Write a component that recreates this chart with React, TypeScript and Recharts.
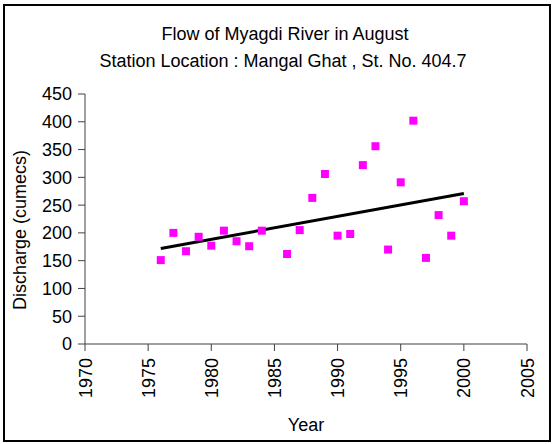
import React from 'react'
import {
  ScatterChart,
  Scatter,
  XAxis,
  YAxis,
  ZAxis,
  ReferenceLine,
} from 'recharts'

const years = [
  1976, 1977, 1978, 1979, 1980, 1981, 1982, 1983, 1984, 1986, 1987, 1988,
  1989, 1990, 1991, 1992, 1993, 1994, 1995, 1996, 1997, 1998, 1999, 2000,
]
const flows = [
  151, 200, 167, 193, 177, 204, 185, 176, 204, 162, 205, 263,
  306, 195, 198, 322, 356, 170, 291, 402, 155, 232, 195, 257,
]
// trend line end points
const trendYears = [1976, 2000]
const trendFlows = [172, 271]

const xTicks = [1970, 1975, 1980, 1985, 1990, 1995, 2000, 2005]
const yTicks = [0, 50, 100, 150, 200, 250, 300, 350, 400, 450]

const FONT = '"Liberation Sans", Arial, sans-serif'
const AXIS = '#404040'

const points = years.map((year, i) => ({ year, flow: flows[i] }))

function YearTick(props: any) {
  const { x, y, payload } = props
  return (
    <text
      x={x + 6.5}
      y={y + 5}
      transform={`rotate(-90, ${x + 6.5}, ${y + 5})`}
      textAnchor="end"
      fontSize={18}
      fontFamily={FONT}
      fill="#000"
    >
      {payload.value}
    </text>
  )
}

export default function App() {
  return (
    <div style={{ position: 'absolute', left: 0, top: 0, width: 553, height: 444, background: '#fff' }}>
      <ScatterChart
        width={553}
        height={444}
        margin={{ top: 94, right: 26, bottom: 0, left: 0 }}
      >
        <XAxis
          type="number"
          dataKey="year"
          domain={[1970, 2005]}
          ticks={xTicks}
          height={100}
          tickSize={7}
          stroke={AXIS}
          tick={<YearTick />}
        />
        <YAxis
          type="number"
          dataKey="flow"
          domain={[0, 450]}
          ticks={yTicks}
          width={85}
          tickSize={7}
          tickMargin={6}
          stroke={AXIS}
          tick={{ fill: '#000', fontSize: 18, fontFamily: FONT }}
        />
        <ZAxis range={[81, 81]} />
        <ReferenceLine
          segment={[
            { x: trendYears[0], y: trendFlows[0] },
            { x: trendYears[1], y: trendFlows[1] },
          ]}
          stroke="#000"
          strokeWidth={3}
        />
        <Scatter
          data={points}
          fill="#FF00FF"
          shape="square"
          isAnimationActive={false}
        />
      </ScatterChart>
      <svg
        width={553}
        height={444}
        style={{ position: 'absolute', left: 0, top: 0, pointerEvents: 'none' }}
        fontFamily={FONT}
        fontSize={18}
      >
        <rect x={4} y={5} width={546} height={436} fill="none" stroke="#000" strokeWidth={2} />
        <text x={285} y={40} textAnchor="middle">Flow of Myagdi River in August</text>
        <text x={283} y={67} textAnchor="middle">Station Location : Mangal Ghat , St. No. 404.7</text>
        <text x={26} y={230} textAnchor="middle" transform="rotate(-90, 26, 230)">
          Discharge (cumecs)
        </text>
        <text x={306} y={431} textAnchor="middle">Year</text>
      </svg>
    </div>
  )
}
